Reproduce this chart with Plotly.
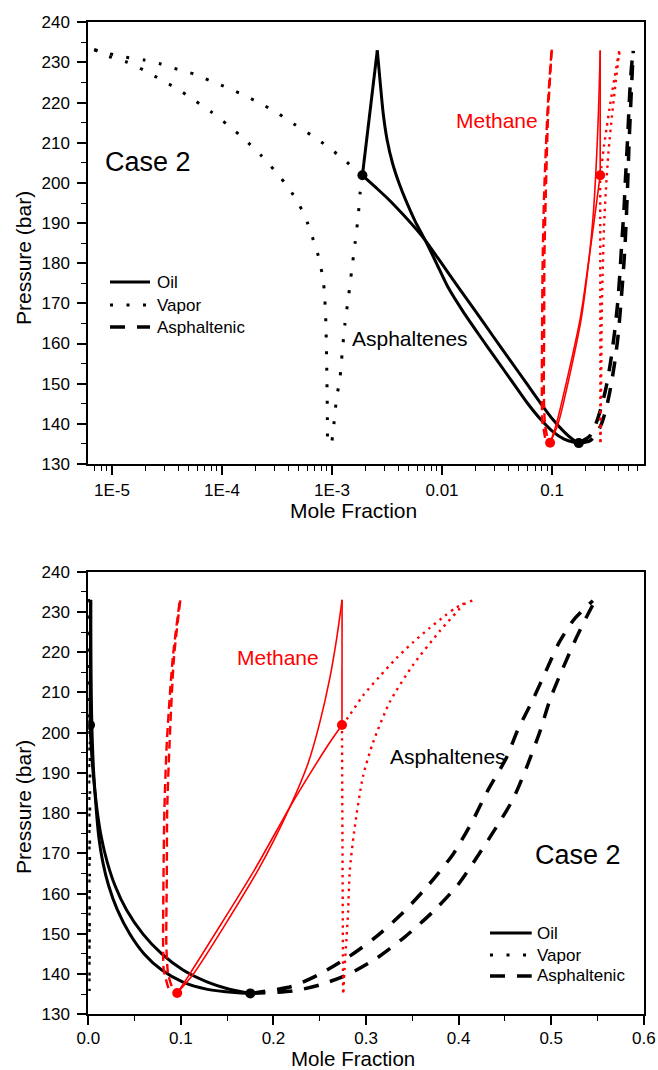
import plotly.graph_objects as go

# ---------------- data: pressure (bar) and mole fraction ----------------
# Asphaltenes in the oil phase: lower branch (A), connecting segment, upper branch (B)
asp_oil_a_p = [201.9, 199.0, 196.0, 192.0, 188.0, 185.8, 180.0, 174.0, 168.0, 162.0, 156.0, 150.0, 145.0, 141.0, 138.0, 136.3, 135.2]
asp_oil_a_x = [0.00189, 0.00247, 0.00324, 0.00447, 0.00603, 0.0070, 0.00989, 0.0141, 0.0202, 0.0288, 0.0412, 0.0589, 0.0794, 0.1023, 0.1288, 0.1514, 0.175]
asp_oil_s_p = [201.9, 233.0]
asp_oil_s_x = [0.00189, 0.00258]
asp_oil_b_p = [233.0, 225.6, 217.3, 210.7, 204.9, 199.9, 195.7, 190.5, 185.8, 180.0, 174.0, 168.0, 162.0, 156.0, 150.0, 145.0, 141.0, 138.0, 136.2, 135.4, 135.2]
asp_oil_b_x = [0.00258, 0.00273, 0.00292, 0.00317, 0.00355, 0.00407, 0.00468, 0.00569, 0.0070, 0.0089, 0.01135, 0.0155, 0.0219, 0.0313, 0.0447, 0.0603, 0.0794, 0.1023, 0.1288, 0.1585, 0.175]

# Asphaltenes in the vapor phase
asp_vap_up_p = [233.2, 232.2, 231.3, 230.6, 229.6, 228.3, 227.1, 225.4, 223.7, 221.8, 219.7, 217.4, 214.7, 212.0, 209.0, 205.5, 201.9]
asp_vap_up_x = [6.9e-6, 9.4e-6, 1.34e-5, 1.97e-5, 2.79e-5, 3.94e-5, 5.6e-5, 7.9e-5, 1.12e-4, 1.6e-4, 2.26e-4, 3.2e-4, 4.5e-4, 6.4e-4, 9.2e-4, 1.32e-3, 1.89e-3]
asp_vap_r_p = [201.9, 197.4, 191.7, 185.0, 178.2, 171.5, 164.8, 158.0, 151.3, 146.3, 138.7, 135.8]
asp_vap_r_x = [1.89e-3, 1.80e-3, 1.73e-3, 1.62e-3, 1.51e-3, 1.41e-3, 1.31e-3, 1.24e-3, 1.18e-3, 1.10e-3, 1.03e-3, 1.0e-3]
asp_vap_lo_p = [233.2, 231.5, 230.0, 228.0, 225.7, 223.4, 220.6, 217.8, 214.5, 210.9, 206.9, 202.7, 198.5, 194.5, 190.0, 185.8, 181.9, 177.6, 173.4, 165.0, 155.0, 145.0, 135.8]
asp_vap_lo_x = [6.9e-6, 9.4e-6, 1.39e-5, 1.97e-5, 2.79e-5, 3.94e-5, 5.6e-5, 7.9e-5, 1.12e-4, 1.6e-4, 2.26e-4, 3.1e-4, 4.09e-4, 5.05e-4, 6.0e-4, 6.76e-4, 7.5e-4, 8.1e-4, 8.5e-4, 8.8e-4, 8.95e-4, 9.05e-4, 9.1e-4]

# Asphaltenes in the asphaltenic phase (two branches)
asp_asph_u_p = [135.2, 136.9, 140.0, 144.1, 149.1, 155.3, 162.2, 169.8, 177.8, 185.7, 193.7, 200.4, 208.6, 215.5, 222.3, 228.1, 232.8]
asp_asph_u_x = [0.175, 0.2195, 0.250, 0.280, 0.310, 0.340, 0.3677, 0.394, 0.4144, 0.4317, 0.4515, 0.4634, 0.481, 0.4947, 0.5083, 0.5245, 0.545]
asp_asph_l_p = [135.2, 135.8, 137.3, 140.0, 143.9, 149.2, 155.5, 162.2, 169.4, 176.5, 183.4, 191.2, 200.0, 208.4, 216.0, 223.5, 228.6, 232.9]
asp_asph_l_x = [0.175, 0.2212, 0.250, 0.2813, 0.3112, 0.3417, 0.3723, 0.3993, 0.4208, 0.4407, 0.4586, 0.4731, 0.4874, 0.499, 0.5126, 0.527, 0.5378, 0.5475]

# Methane in the oil phase
met_oil_a_p = [135.3, 140.0, 165.9, 181.5, 190.0, 197.6, 201.9]
met_oil_a_x = [0.096, 0.1095, 0.1795, 0.2177, 0.240, 0.261, 0.274]
met_oil_s_p = [201.9, 233.0]
met_oil_s_x = [0.274, 0.2741]
met_oil_b_p = [233.0, 223.0, 213.5, 202.5, 192.4, 181.5, 165.9, 140.0, 135.3]
met_oil_b_x = [0.2741, 0.268, 0.2608, 0.250, 0.2374, 0.2177, 0.1835, 0.1135, 0.096]

# Methane in the vapor phase
met_vap_a_p = [135.4, 150.0, 170.0, 190.0, 201.9]
met_vap_a_x = [0.2752, 0.2748, 0.2745, 0.2742, 0.274]
met_vap_b_p = [201.9, 203.8, 209.2, 213.8, 218.5, 222.5, 226.0, 229.0, 231.1, 232.9]
met_vap_b_x = [0.274, 0.2806, 0.2967, 0.314, 0.3328, 0.351, 0.3687, 0.385, 0.3975, 0.4155]
met_vap_c_p = [135.6, 141.4, 149.3, 155.5, 165.9, 176.5, 189.1, 197.5, 207.6, 216.8, 225.2, 231.9, 232.9]
met_vap_c_x = [0.2755, 0.2768, 0.279, 0.2806, 0.2825, 0.2878, 0.2967, 0.3075, 0.3256, 0.3507, 0.3795, 0.4047, 0.4065]

# Methane in the asphaltenic phase
met_asph_1_p = [136.5, 141.0, 147.1, 163.9, 180.7, 197.5, 218.5, 233.2]
met_asph_1_x = [0.0865, 0.0815, 0.0808, 0.0812, 0.0822, 0.0848, 0.0912, 0.0990]
met_asph_2_p = [137.0, 140.0, 147.1, 163.9, 180.7, 197.5, 218.5, 233.2]
met_asph_2_x = [0.0900, 0.0862, 0.0843, 0.0848, 0.0852, 0.0878, 0.0925, 0.0995]

# Phase-boundary points
pts_black_p = [201.9, 135.2]
pts_black_x = [0.00189, 0.175]
pts_red_p = [201.9, 135.3]
pts_red_x = [0.274, 0.096]

# Axis ticks and legend entries
p_ticks = list(range(130, 241, 10))
log_tickvals = [1e-5, 1e-4, 1e-3, 1e-2, 1e-1]
log_ticktext = ["1E-5", "1E-4", "1E-3", "0.01", "0.1"]
legend_names = ["Oil", "Vapor", "Asphaltenic"]

# ---------------- styles ----------------
FONT = "Liberation Sans, Arial, sans-serif"
RED = "#ff0000"
BLK = "#000000"
S_OIL_K = dict(color=BLK, width=3)
S_VAP_K = dict(color=BLK, width=3, dash="3px,13.5px")
S_ASP_K = dict(color=BLK, width=3.5, dash="15px,12px")
S_OIL_R = dict(color=RED, width=1.6)
S_VAP_R = dict(color=RED, width=2.4, dash="2.4px,4.8px")
S_ASP_R = dict(color=RED, width=2.4, dash="9px,5px")
legend_styles = [S_OIL_K, S_VAP_K, S_ASP_K]

series = [
    # (x, p, style, spline)
    (asp_oil_a_x, asp_oil_a_p, S_OIL_K, True),
    (asp_oil_s_x, asp_oil_s_p, S_OIL_K, False),
    (asp_oil_b_x, asp_oil_b_p, S_OIL_K, True),
    (asp_vap_up_x, asp_vap_up_p, S_VAP_K, True),
    (asp_vap_r_x, asp_vap_r_p, S_VAP_K, True),
    (asp_vap_lo_x, asp_vap_lo_p, S_VAP_K, True),
    (asp_asph_u_x, asp_asph_u_p, S_ASP_K, True),
    (asp_asph_l_x, asp_asph_l_p, S_ASP_K, True),
    (met_oil_a_x, met_oil_a_p, S_OIL_R, True),
    (met_oil_s_x, met_oil_s_p, S_OIL_R, False),
    (met_oil_b_x, met_oil_b_p, S_OIL_R, True),
    (met_vap_a_x, met_vap_a_p, S_VAP_R, False),
    (met_vap_b_x, met_vap_b_p, S_VAP_R, True),
    (met_vap_c_x, met_vap_c_p, S_VAP_R, True),
    (met_asph_1_x, met_asph_1_p, S_ASP_R, True),
    (met_asph_2_x, met_asph_2_p, S_ASP_R, True),
]

fig = go.Figure()
for xa, ya in [("x", "y"), ("x2", "y2")]:
    for xs, ps, st, smooth in series:
        line = dict(st, shape="spline" if smooth else "linear")
        if smooth:
            line["smoothing"] = 0.7
        fig.add_trace(go.Scatter(x=xs, y=ps, xaxis=xa, yaxis=ya, mode="lines",
                                 line=line, showlegend=False, hoverinfo="skip"))
    fig.add_trace(go.Scatter(x=pts_black_x, y=pts_black_p, xaxis=xa, yaxis=ya,
                             mode="markers", marker=dict(color=BLK, size=10),
                             showlegend=False, hoverinfo="skip"))
    fig.add_trace(go.Scatter(x=pts_red_x, y=pts_red_p, xaxis=xa, yaxis=ya,
                             mode="markers", marker=dict(color=RED, size=10),
                             showlegend=False, hoverinfo="skip"))

W, H = 658, 1070
X0, X1 = 88.3, 643.8
TOP = (22.3, 464.0)
BOT = (571.7, 1014.3)


def ydom(t, b):
    return [1 - b / H, 1 - t / H]


axis_common = dict(showline=True, linewidth=2, linecolor=BLK, mirror=True,
                   showgrid=False, zeroline=False, ticks="outside", automargin=False,
                   ticklen=9, tickwidth=1.6, tickcolor=BLK,
                   tickfont=dict(family=FONT, size=17, color=BLK))
minor_lin = dict(ticks="outside", ticklen=5, tickwidth=1.4, tickcolor=BLK, showgrid=False)

minor_log = [k * 10.0 ** e for e in range(-6, 0) for k in range(2, 10)
             if 6.1e-6 <= k * 10.0 ** e <= 0.68]

fig.update_layout(
    width=W, height=H, margin=dict(l=0, r=0, t=0, b=0, autoexpand=False),
    paper_bgcolor="white", plot_bgcolor="white", showlegend=False,
    xaxis=dict(axis_common, type="log", domain=[X0 / W, X1 / W],
               range=[-5.215, -0.166], tickvals=log_tickvals, ticktext=log_ticktext,
               ticklabelstandoff=1,
               minor=dict(minor_lin, tickvals=minor_log), anchor="y"),
    yaxis=dict(axis_common, domain=ydom(*TOP), range=[130, 240], tickvals=p_ticks,
               ticklabelstandoff=4, minor=dict(minor_lin, dtick=5), anchor="x"),
    xaxis2=dict(axis_common, domain=[X0 / W, X1 / W], range=[0, 0.6], dtick=0.1,
                tick0=0, tickformat=".1f", ticklabelstandoff=-2,
                minor=dict(minor_lin, dtick=0.05), anchor="y2"),
    yaxis2=dict(axis_common, domain=ydom(*BOT), range=[130, 240], tickvals=p_ticks,
                ticklabelstandoff=4, minor=dict(minor_lin, dtick=5), anchor="x2"),
)


def label(text, x, y, size, color=BLK, angle=0, xanchor="center"):
    fig.add_annotation(text=text, x=x / W, y=1 - y / H, xref="paper", yref="paper",
                       showarrow=False, xanchor=xanchor, yanchor="middle",
                       textangle=angle, borderpad=0,
                       font=dict(family=FONT, size=size, color=color))


def legend_box(x_line, x_text, ys):
    # line-style key: sample segment followed by its label
    for name, st, yy in zip(legend_names, legend_styles, ys):
        fig.add_shape(type="line", xref="paper", yref="paper",
                      x0=x_line[0] / W, x1=x_line[1] / W, y0=1 - yy / H, y1=1 - yy / H,
                      line=dict(color=st["color"], width=st["width"],
                                dash=st.get("dash", "solid")))
        label(name, x_text, yy, 17, xanchor="left")


legend_box((110, 150), 155.5, (282, 305, 327))
legend_box((490, 531.7), 535.5, (933, 955, 976))

# axis titles
label("Pressure (bar)", 23, 258, 21, angle=-90)
label("Pressure (bar)", 23, 807, 21, angle=-90)
label("Mole Fraction", 353, 511, 21)
label("Mole Fraction", 353, 1058, 20.5)

# panel annotations
label("Case 2", 148, 162, 27)
label("Methane", 497, 120, 21, color=RED)
label("Asphaltenes", 410, 338, 21)
label("Methane", 278, 657, 21, color=RED)
label("Asphaltenes", 448, 756, 21)
label("Case 2", 578, 855, 27)

fig.write_html("out.html")
